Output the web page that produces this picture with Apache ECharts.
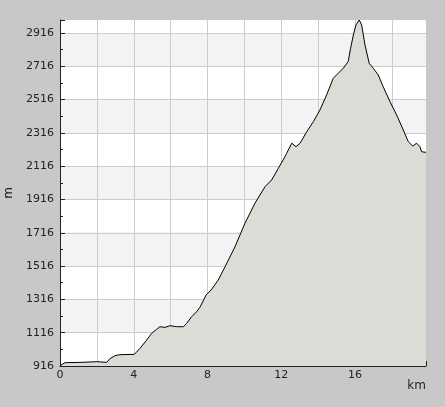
<!DOCTYPE html>
<html>
<head>
<meta charset="utf-8">
<script src="https://cdn.jsdelivr.net/npm/echarts@6/dist/echarts.min.js"></script>
<style>
html,body{margin:0;padding:0;background:#c8c8c8;}
#c{width:445px;height:407px;}
</style>
</head>
<body>
<div id="c"></div>
<script>
// Distance along track (km)
var distKm = [0, 0.27, 1.18, 1.19, 1.99, 2.08, 2.53, 2.71, 2.98, 3.25, 4.03, 4.34, 4.70, 4.97, 5.24, 5.42, 5.69, 5.97, 6.33, 6.69, 6.87, 7.14, 7.41, 7.59, 7.92, 8.19, 8.58, 8.95, 9.49, 10.03, 10.57, 11.12, 11.48, 11.84, 12.20, 12.29, 12.57, 12.65, 12.80, 13.02, 13.38, 13.74, 14.10, 14.46, 14.82, 15.09, 15.36, 15.63, 15.76, 15.91, 16.05, 16.23, 16.36, 16.54, 16.77, 16.99, 17.26, 17.53, 17.90, 18.26, 18.62, 18.89, 19.13, 19.34, 19.52, 19.61, 19.85];
// Elevation (m)
var elevM = [918, 936, 938, 944, 942, 938, 938, 960, 978, 984, 986, 1022, 1072, 1112, 1136, 1152, 1148, 1158, 1152, 1152, 1172, 1212, 1242, 1269, 1342, 1372, 1432, 1512, 1632, 1773, 1893, 1993, 2033, 2103, 2173, 2193, 2254, 2263, 2233, 2254, 2323, 2383, 2454, 2544, 2644, 2674, 2704, 2744, 2824, 2904, 2964, 2994, 2964, 2844, 2734, 2704, 2664, 2593, 2503, 2423, 2333, 2263, 2237, 2254, 2233, 2203, 2199];

var yMin = 916, yMax = 2994, yStep = 200;
var xMin = 0, xMax = 19.85, xStep = 2, xLabelStep = 4;

var pts = distKm.map(function (d, i) { return [d, elevM[i]]; });

var chart = echarts.init(document.getElementById('c'));
var txt = {color: '#222', fontFamily: 'DejaVu Sans', fontSize: 11};
chart.setOption({
  backgroundColor: '#c8c8c8',
  animation: false,
  grid: {left: 60, top: 20, right: 19, bottom: 41, containLabel: false, outerBoundsMode: 'none'},
  xAxis: {
    type: 'value', min: xMin, max: xMax, interval: xStep,
    name: 'km', nameLocation: 'end', nameGap: 0,
    nameTextStyle: {color: '#222', fontFamily: 'DejaVu Sans', fontSize: 12, align: 'right', verticalAlign: 'top', padding: [14, 0, 0, 0]},
    axisLine: {show: true, onZero: false, lineStyle: {color: '#222', width: 1}},
    axisTick: {show: true, inside: true, length: 5, lineStyle: {color: '#222'}},
    minorTick: {show: true, splitNumber: 2, length: 3, lineStyle: {color: '#222'}},
    axisLabel: Object.assign({margin: 4, showMaxLabel: false, formatter: function (v) {
      return (Math.abs(v % xLabelStep) < 1e-6) ? String(v) : '';
    }}, txt),
    splitLine: {show: true, showMaxLine: false, lineStyle: {color: '#cccccc', width: 1}}
  },
  yAxis: {
    type: 'value', min: yMin, max: yMax, interval: yStep,
    name: 'm', nameLocation: 'middle', nameGap: 43, nameRotate: 90,
    nameTextStyle: {color: '#222', fontFamily: 'DejaVu Sans', fontSize: 12},
    axisLine: {show: true, onZero: false, lineStyle: {color: '#222', width: 1}},
    axisTick: {show: true, inside: true, length: 5, lineStyle: {color: '#222'}},
    minorTick: {show: true, splitNumber: 2, length: 3, lineStyle: {color: '#222'}},
    axisLabel: Object.assign({margin: 6, showMaxLabel: false, formatter: function (v) { return String(v); }}, txt),
    splitLine: {show: true, showMaxLine: false, lineStyle: {color: '#cccccc', width: 1}},
    splitArea: {show: true, areaStyle: {color: ['#ffffff', '#f3f2f4']}}
  },
  series: [{
    type: 'line', data: pts, showSymbol: false, symbol: 'none',
    lineStyle: {color: '#000', width: 1},
    areaStyle: {color: '#dcdbd6', opacity: 1},
    z: 3
  }]
});
</script>
</body>
</html>
